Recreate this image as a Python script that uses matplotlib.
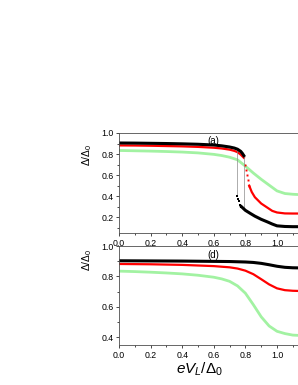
import numpy as np
import matplotlib
matplotlib.use('agg')
import matplotlib.pyplot as plt
from matplotlib.ticker import MultipleLocator, FixedLocator

plt.rcParams['font.family'] = 'Liberation Sans'
plt.rcParams['mathtext.fontset'] = 'custom'
plt.rcParams['mathtext.rm'] = 'Liberation Sans'
plt.rcParams['mathtext.it'] = 'Liberation Sans:italic'

## Panel (a): hysteresis branches
a_blk_up_x = [0, .1, .2, .3, .4, .5, .6, .65, .7, .73, .75, .77, .78, .79]
a_blk_up_y = [.905, .904, .902, .900, .897, .893, .886, .878, .867, .857, .846, .826, .808, .785]
a_blk_jump_x = [0.745, 0.752, 0.76, 0.768, 0.775]
a_blk_jump_y = [0.40, 0.375, 0.35, 0.32, 0.30]
a_blk_lo_x = [0.775, 0.80, 0.83, 0.86, 0.90, 0.94, 0.97, 1.0, 1.05, 1.1, 1.2]
a_blk_lo_y = [0.30, 0.265, 0.237, 0.21, 0.18, 0.155, 0.135, 0.118, 0.112, 0.11, 0.11]

a_red_up_x = [0, .1, .2, .3, .4, .5, .6, .65, .7, .73, .75, .77, .79]
a_red_up_y = [.882, .881, .879, .876, .873, .868, .860, .853, .842, .830, .818, .795, .765]
a_red_jump_x = [0.80, 0.806, 0.812, 0.818, 0.824]
a_red_jump_y = [0.70, 0.65, 0.60, 0.55, 0.50]
a_red_lo_x = [0.824, 0.84, 0.86, 0.90, 0.94, 0.97, 1.0, 1.05, 1.1, 1.2]
a_red_lo_y = [0.50, 0.44, 0.39, 0.33, 0.29, 0.26, 0.245, 0.236, 0.235, 0.235]

a_grn_x = [0, .1, .2, .3, .4, .5, .6, .65, .7, .75, .8, .85, .9, .95, 1.0, 1.05, 1.1, 1.2]
a_grn_y = [.834, .831, .828, .824, .819, .811, .797, .786, .77, .745, .685, .62, .56, .505, .45, .425, .418, .41]

## Panel (d)
d_x_blk = [0, .2, .4, .6, .7, .8, .85, .9, .95, 1.0, 1.05, 1.1, 1.2]
d_y_blk = [.903, .902, .901, .899, .898, .895, .892, .886, .877, .867, .86, .857, .855]
d_x_red = [0, .2, .4, .5, .6, .7, .75, .8, .85, .9, .95, 1.0, 1.05, 1.1, 1.2]
d_y_red = [.882, .880, .876, .872, .868, .86, .852, .838, .815, .782, .748, .722, .71, .706, .703]
d_x_grn = [0, .1, .2, .3, .4, .5, .6, .65, .7, .75, .8, .85, .9, .95, 1.0, 1.05, 1.1, 1.2]
d_y_grn = [.835, .832, .828, .823, .817, .808, .795, .784, .768, .738, .69, .615, .535, .475, .44, .425, .415, .41]

x_ticks = [0.0, 0.2, 0.4, 0.6, 0.8, 1.0]

GREEN = '#a2f2a2'
ticksize = 6.3
W, H = 298, 385

fig = plt.figure(figsize=(W/100, H/100), dpi=100)
axw = 1.2*158/W
axA = fig.add_axes([119/W, 1-233/H, axw, 100/H])
axD = fig.add_axes([119/W, 1-345/H, axw, 99/H])

# (a)
axA.plot(a_grn_x, a_grn_y, '-', color=GREEN, lw=2.0)
axA.plot(a_red_up_x, a_red_up_y, '-', color='red', lw=1.6)
axA.plot(a_red_jump_x, a_red_jump_y, 's', color='red', ms=1.4, mew=0)
axA.plot(a_red_lo_x, a_red_lo_y, '-', color='red', lw=1.6)
# thin connectors of the sweep jumps
xj1 = a_blk_up_x[-1]
axA.plot([xj1, xj1], [a_blk_up_y[-1], np.interp(xj1, a_blk_lo_x, a_blk_lo_y)], color='0.55', lw=0.5)
xj2 = a_blk_jump_x[0]
axA.plot([xj2, xj2], [a_blk_jump_y[0], np.interp(xj2, a_blk_up_x, a_blk_up_y)], color='0.55', lw=0.5)
axA.plot(a_blk_up_x, a_blk_up_y, '-', color='black', lw=2.2)
axA.plot(a_blk_jump_x, a_blk_jump_y, 's', color='black', ms=1.6, mew=0)
axA.plot(a_blk_lo_x, a_blk_lo_y, '-', color='black', lw=2.2)
axA.set_ylim(0.05, 1.0)
axA.yaxis.set_major_locator(MultipleLocator(0.2))
axA.text(213/W, 1-141/H, '(a)', transform=fig.transFigure, ha='center', va='center', fontsize=7)

# (d)
axD.plot(d_x_grn, d_y_grn, '-', color=GREEN, lw=2.0)
axD.plot(d_x_red, d_y_red, '-', color='red', lw=1.6)
axD.plot(d_x_blk, d_y_blk, '-', color='black', lw=2.2)
axD.set_ylim(0.35, 1.0)
axD.yaxis.set_major_locator(MultipleLocator(0.2))
axD.text(213/W, 1-255/H, '(d)', transform=fig.transFigure, ha='center', va='center', fontsize=7)

for ax in (axA, axD):
	ax.set_xlim(0, 1.2)
	ax.xaxis.set_major_locator(FixedLocator(x_ticks))
	ax.xaxis.set_minor_locator(MultipleLocator(0.1))
	ax.yaxis.set_minor_locator(MultipleLocator(0.1))
	ax.tick_params(which='major', direction='out', length=2.5, width=0.5, labelsize=ticksize, pad=1.5)
	ax.tick_params(which='minor', direction='out', length=1.3, width=0.5)
	ax.xaxis.set_major_formatter(plt.FuncFormatter(lambda v, p: '%.1f' % v))
	ax.yaxis.set_major_formatter(plt.FuncFormatter(lambda v, p: '%.1f' % v))
	for s in ax.spines.values():
		s.set_linewidth(0.6)
		s.set_color('0.3')

axA.set_ylabel(r'$\Delta/\Delta_0$', fontsize=7.5)
axA.yaxis.set_label_coords(-0.13, 0.78)
axD.set_ylabel(r'$\Delta/\Delta_0$', fontsize=7.5)
axD.yaxis.set_label_coords(-0.13, 0.86)

fig.text(200/W, 1-369/H, r'$eV_L/\Delta_0$', ha='center', va='center', fontsize=11)

fig.savefig('out.png', dpi=100)
